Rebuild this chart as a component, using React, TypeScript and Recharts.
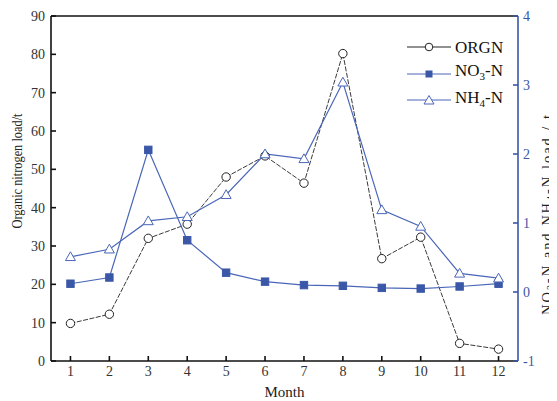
import React from 'react';
import { LineChart, Line, XAxis, YAxis, ReferenceLine } from 'recharts';

const months = [1, 2, 3, 4, 5, 6, 7, 8, 9, 10, 11, 12];
const orgn = [9.8, 12.2, 32, 35.7, 48, 53.5, 46.4, 80.2, 26.7, 32.3, 4.6, 3.1];
const no3 = [0.12, 0.21, 2.06, 0.75, 0.28, 0.15, 0.1, 0.09, 0.06, 0.05, 0.08, 0.12];
const nh4 = [0.51, 0.62, 1.03, 1.09, 1.41, 2.0, 1.93, 3.04, 1.19, 0.95, 0.27, 0.2];
const leftTicks = [0, 10, 20, 30, 40, 50, 60, 70, 80, 90];
const rightTicks = [-1, 0, 1, 2, 3, 4];

const data = months.map((m, i) => ({ month: m, orgn: orgn[i], no3: no3[i], nh4: nh4[i] }));

const FONT = '"Liberation Serif", "Times New Roman", serif';
const BLUE = '#3a57a8';
const LINEBLUE = '#4a66b8';

const CircleDot = (p: any) => {
  if (p.cx == null || p.cy == null) return null;
  return <circle key={p.key} cx={p.cx} cy={p.cy} r={4.2} fill="#fff" stroke="#222" strokeWidth={1} />;
};
const SquareDot = (p: any) => {
  if (p.cx == null || p.cy == null) return null;
  return <rect key={p.key} x={p.cx - 3.7} y={p.cy - 3.7} width={7.4} height={7.4} fill={BLUE} stroke={BLUE} />;
};
const TriDot = (p: any) => {
  if (p.cx == null || p.cy == null) return null;
  const s = 5;
  return (
    <polygon
      key={p.key}
      points={`${p.cx},${p.cy - s} ${p.cx - s},${p.cy + s * 0.75} ${p.cx + s},${p.cy + s * 0.75}`}
      fill="#fff"
      stroke={LINEBLUE}
      strokeWidth={1}
    />
  );
};

const LegendBox = () => {
  const row = (marker: React.ReactNode, stroke: string, label: React.ReactNode) => (
    <div style={{ display: 'flex', alignItems: 'center', height: 26.5 }}>
      <svg width={46} height={14} style={{ display: 'block' }}>
        <line x1={0} y1={7} x2={44} y2={7} stroke={stroke} strokeWidth={1} />
        {marker}
      </svg>
      <span style={{ fontFamily: FONT, fontSize: 17, color: '#111', marginLeft: 2, lineHeight: '17px', whiteSpace: 'nowrap' }}>{label}</span>
    </div>
  );
  return (
    <div style={{ position: 'absolute', left: 399, top: 26, width: 130 }}>
      {row(<circle cx={22} cy={7} r={3.8} fill="#fff" stroke="#222" />, '#222', 'ORGN')}
      {row(<rect x={18.5} y={3.5} width={7} height={7} fill={BLUE} />, LINEBLUE, <span>NO<sub style={{ fontSize: 11 }}>3</sub>-N</span>)}
      {row(<polygon points="22,2.5 17,11 27,11" fill="#fff" stroke={LINEBLUE} />, LINEBLUE, <span>NH<sub style={{ fontSize: 11 }}>4</sub>-N</span>)}
    </div>
  );
};

const LeftLabel = () => {
  const cx = 9;
  const cy = 163;
  return (
    <text x={cx} y={cy} transform={`rotate(-90, ${cx}, ${cy})`} textAnchor="middle" dominantBaseline="central"
      fontFamily={FONT} fontSize={15} fill="#222" textLength={115} lengthAdjust="spacingAndGlyphs">
      Organic nitrogen load/t
    </text>
  );
};

const RightLabel = () => {
  const cx = 539;
  const cy = 207;
  return (
    <text x={cx} y={cy} transform={`rotate(-90, ${cx}, ${cy})`} textAnchor="middle" dominantBaseline="central"
      fontFamily={FONT} fontSize={14.5} fill="#222" textLength={200} lengthAdjust="spacing">
      NO<tspan fontSize={10} dy={3}>3</tspan><tspan dy={-3}>-N and NH</tspan><tspan fontSize={10} dy={3}>4</tspan><tspan dy={-3}>-N load / t</tspan>
    </text>
  );
};

const MonthLabel = () => (
  <text x={276.5} y={384} textAnchor="middle" dominantBaseline="central" fontFamily={FONT} fontSize={15} fill="#222">
    Month
  </text>
);

export default function App() {
  return (
    <div style={{ background: '#fff', position: 'relative', width: 549, height: 393 }}>
      <LineChart width={549} height={393} data={data} margin={{ top: 8, right: 0, left: 0, bottom: 0 }}>
        <XAxis
          dataKey="month"
          type="number"
          domain={[0.5, 12.5]}
          ticks={months}
          allowDataOverflow
          height={40}
          stroke="#111"
          strokeWidth={1.6}
          tickSize={-5}
          tickMargin={10}
          tick={{ fontFamily: FONT, fontSize: 14, fill: '#333' }}
          label={<MonthLabel />}
        />
        <YAxis
          yAxisId="left"
          orientation="left"
          domain={[0, 90]}
          ticks={leftTicks}
          width={43}
          stroke="#111"
          strokeWidth={1.6}
          tickSize={-5}
          tickMargin={11}
          tick={{ fontFamily: FONT, fontSize: 14, fill: '#333' }}
          label={<LeftLabel />}
        />
        <YAxis
          yAxisId="right"
          orientation="right"
          domain={[-1, 4]}
          ticks={rightTicks}
          width={39}
          stroke={BLUE}
          strokeWidth={1.6}
          tickSize={-5}
          tickMargin={10}
          tick={{ fontFamily: FONT, fontSize: 14, fill: BLUE }}
          label={<RightLabel />}
        />
        <ReferenceLine yAxisId="left" y={90} stroke="#111" strokeWidth={1.6} />
        <Line yAxisId="left" dataKey="orgn" stroke="#3a3a3a" strokeWidth={1} strokeDasharray="5 1.5" dot={<CircleDot />} isAnimationActive={false} />
        <Line yAxisId="right" dataKey="no3" stroke={LINEBLUE} strokeWidth={1.2} dot={<SquareDot />} isAnimationActive={false} />
        <Line yAxisId="right" dataKey="nh4" stroke={LINEBLUE} strokeWidth={1.2} dot={<TriDot />} isAnimationActive={false} />
      </LineChart>
      <LegendBox />
    </div>
  );
}
